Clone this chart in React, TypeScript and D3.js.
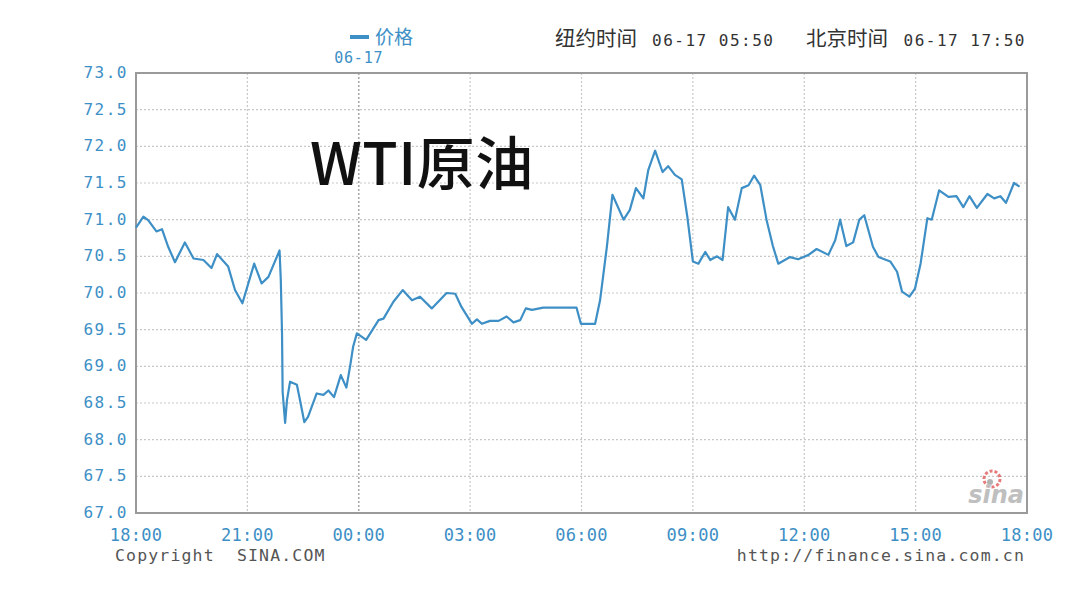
import React from "react";
import * as d3 from "d3";

const times = [
  "18:00","18:12","18:20","18:33","18:42","18:52","19:03","19:19","19:33","19:49",
  "20:02","20:11","20:29","20:40","20:52","21:11","21:23","21:34","21:52","21:54",
  "21:56","21:57","22:01","22:04","22:09","22:20","22:25","22:32","22:38","22:52",
  "23:03","23:11","23:20","23:31","23:40","23:46","23:51","23:57","00:12","00:32",
  "00:40","00:56","01:11","01:26","01:39","01:58","02:22","02:36","02:46","03:03",
  "03:11","03:19","03:32","03:46","03:59","04:10","04:21","04:30","04:40","04:58",
  "05:52","05:59","06:22","06:30","06:41","06:50","07:08","07:18","07:28","07:40",
  "07:48","07:59","08:11","08:20","08:31","08:42","08:51","09:00","09:09","09:20",
  "09:28","09:39","09:48","09:57","10:08","10:19","10:30","10:39","10:49","10:59",
  "11:09","11:18","11:37","11:50","12:07","12:20","12:39","12:50","12:58","13:08",
  "13:19","13:29","13:37","13:51","14:00","14:19","14:30","14:38","14:50","14:59",
  "15:08","15:19","15:26","15:38","15:53","16:06","16:17","16:27","16:39","16:56",
  "17:07","17:17","17:26","17:39","17:48"
];
const prices = [
  70.89,71.04,70.99,70.84,70.87,70.63,70.42,70.69,70.47,70.45,
  70.34,70.53,70.36,70.04,69.86,70.40,70.13,70.22,70.58,70.18,
  69.45,68.65,68.23,68.54,68.79,68.75,68.54,68.24,68.31,68.63,
  68.61,68.67,68.58,68.88,68.71,69.00,69.27,69.45,69.36,69.63,
  69.65,69.88,70.04,69.90,69.95,69.79,70.00,69.99,69.81,69.58,
  69.64,69.58,69.62,69.62,69.68,69.60,69.63,69.79,69.77,69.80,
  69.80,69.58,69.58,69.90,70.63,71.34,71.00,71.13,71.43,71.29,
  71.68,71.94,71.65,71.73,71.61,71.55,71.04,70.43,70.40,70.56,
  70.45,70.50,70.45,71.17,71.00,71.43,71.47,71.60,71.47,71.00,
  70.65,70.40,70.49,70.46,70.52,70.60,70.52,70.72,71.00,70.64,
  70.69,71.00,71.06,70.63,70.49,70.43,70.29,70.02,69.95,70.06,
  70.40,71.02,71.00,71.40,71.31,71.32,71.17,71.32,71.16,71.35,
  71.29,71.32,71.23,71.50,71.45
];
const yTicks = [67.0, 67.5, 68.0, 68.5, 69.0, 69.5, 70.0, 70.5, 71.0, 71.5, 72.0, 72.5, 73.0];
const xTickLabels = ["18:00","21:00","00:00","03:00","06:00","09:00","12:00","15:00","18:00"];
const title = "WTI原油";
const legendLabel = "价格";
const dateLabel = "06-17";
const nyLabel = "纽约时间";
const nyTime = "06-17 05:50";
const bjLabel = "北京时间";
const bjTime = "06-17 17:50";
const copyright = "Copyright  SINA.COM";
const url = "http://finance.sina.com.cn";

const toMinutes = (t: string) => {
  const [h, m] = t.split(":").map(Number);
  let mins = (h - 18) * 60 + m;
  if (mins < 0) mins += 1440;
  return mins;
};

export default function App() {
  const W = 1080, H = 605;
  const left = 136, right = 1027, top = 73, bottom = 513;
  const x = d3.scaleLinear().domain([0, 1440]).range([left, right]);
  const y = d3.scaleLinear().domain([67, 73]).range([bottom, top]);
  const data = times.map((t, i) => ({ m: toMinutes(t), v: prices[i] }));
  const line = d3.line<{ m: number; v: number }>().x(d => x(d.m)).y(d => y(d.v));
  const xTickVals = xTickLabels.map((_, i) => i * 180);
  const blue = "#3d8fc6";
  const mono = "'DejaVu Sans Mono', 'Liberation Mono', monospace";
  const cjk = "'Noto Sans CJK SC', 'Noto Sans', sans-serif";

  return (
    <svg width={W} height={H} style={{ position: "absolute", left: 0, top: 0, background: "#fff" }}>
      <rect x={0} y={0} width={W} height={H} fill="#fff" />
      {yTicks.slice(1, -1).map(v => (
        <line key={"h" + v} x1={left} x2={right} y1={y(v)} y2={y(v)} stroke="#c8c8c8" strokeWidth={1.2} strokeDasharray="2,2" />
      ))}
      {xTickVals.slice(1, -1).map(m => (
        <line key={"v" + m} x1={x(m)} x2={x(m)} y1={top} y2={bottom}
          stroke={m === 360 ? "#a8a8a8" : "#c8c8c8"} strokeWidth={m === 360 ? 1.6 : 1.2} strokeDasharray="2,2" />
      ))}
      <g opacity={0.75}>
        <circle cx={992} cy={479} r={8} fill="none" stroke="#e05050" strokeWidth={3} strokeDasharray="3,2" />
        <circle cx={990} cy={482} r={3} fill="#999" />
        <text x={1024} y={503} textAnchor="end" fontFamily="'DejaVu Sans', sans-serif" fontStyle="italic" fontWeight="bold" fontSize={24} fill="#aaa">sina</text>
      </g>
      <rect x={left} y={top} width={right - left} height={bottom - top} fill="none" stroke="#9a9a9a" strokeWidth={2} />
      <path d={line(data) || ""} fill="none" stroke={blue} strokeWidth={2.2} strokeLinejoin="round" />
      {yTicks.map(v => (
        <text key={"yl" + v} x={128} y={y(v) + 5} textAnchor="end" fontFamily={mono} fontSize={16} fill={blue} letterSpacing={1.5}>{v.toFixed(1)}</text>
      ))}
      {xTickVals.map((m, i) => (
        <text key={"xl" + i} x={x(m)} y={541} textAnchor="middle" fontFamily={mono} fontSize={17} fill={blue} letterSpacing={0.3}>{xTickLabels[i]}</text>
      ))}
      <text x={115} y={561} fontFamily={mono} fontSize={16.5} fill="#555" letterSpacing={1.15} style={{ whiteSpace: "pre" }}>{copyright}</text>
      <text x={1025} y={561} textAnchor="end" fontFamily={mono} fontSize={16.5} fill="#555" letterSpacing={1.15}>{url}</text>
      <rect x={350} y={35} width={19} height={4} fill={blue} />
      <text x={375} y={44} fontFamily={cjk} fontSize={19} fill={blue}>{legendLabel}</text>
      <text x={x(360)} y={63} textAnchor="middle" fontFamily={mono} fontSize={15} fill={blue} letterSpacing={0.8}>{dateLabel}</text>
      <text x={555} y={46} fontFamily={cjk} fontSize={20.5} fill="#333">{nyLabel}</text>
      <text x={652} y={46} fontFamily={mono} fontSize={16} fill="#333" letterSpacing={1.5}>{nyTime}</text>
      <text x={806} y={46} fontFamily={cjk} fontSize={20.5} fill="#333">{bjLabel}</text>
      <text x={1026} y={46} textAnchor="end" fontFamily={mono} fontSize={16} fill="#333" letterSpacing={1.5}>{bjTime}</text>
      <text x={310} y={185} fontFamily={cjk} fontWeight={500} fontSize={58} fill="#111" letterSpacing={0.5}>{title}</text>
    </svg>
  );
}
